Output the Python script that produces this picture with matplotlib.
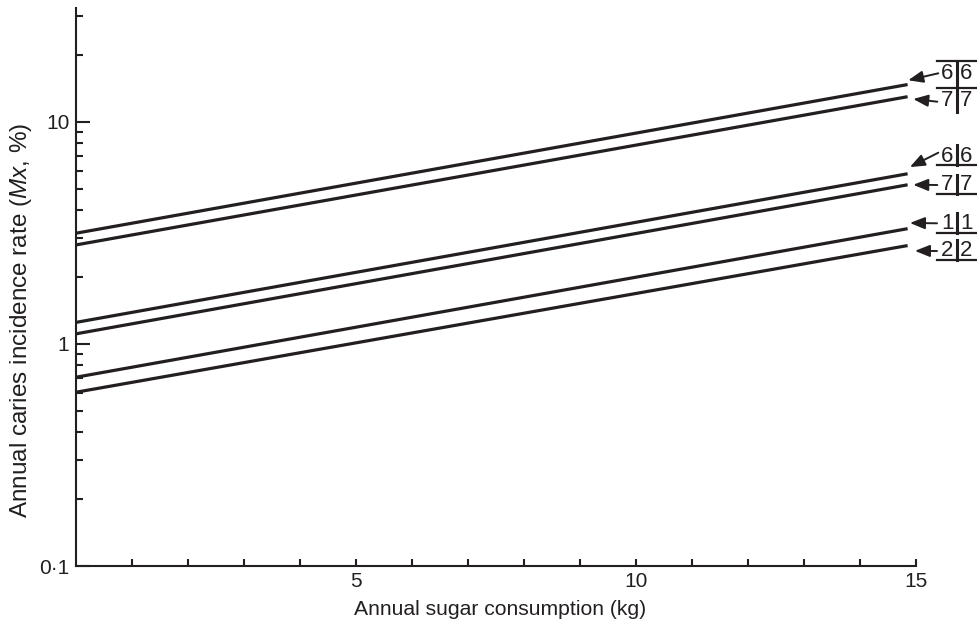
import matplotlib
matplotlib.use("Agg")
from matplotlib import pyplot as plt
from matplotlib.lines import Line2D
from matplotlib.ticker import FixedLocator, FixedFormatter, NullFormatter
import matplotlib.transforms as mtransforms

plt.rcParams['font.family'] = ['Liberation Sans', 'DejaVu Sans']
plt.rcParams['mathtext.fontset'] = 'custom'
plt.rcParams['mathtext.rm'] = 'Liberation Sans'
plt.rcParams['mathtext.it'] = 'Liberation Sans:italic'

# data
sugar_kg = [0, 14.85]
rate_6_upper = [3.15, 14.7]
rate_7_upper = [2.79, 12.96]
rate_6_lower = [1.25, 5.83]
rate_7_lower = [1.11, 5.20]
rate_1_lower = [0.708, 3.30]
rate_2_lower = [0.606, 2.77]
rates = [rate_6_upper, rate_7_upper, rate_6_lower, rate_7_lower, rate_1_lower, rate_2_lower]

tooth = ['6', '7', '6', '7', '1', '2']
jaw = ['upper', 'upper', 'lower', 'lower', 'lower', 'lower']

yticks_major = [0.1, 1, 10]
ytick_labels = ['0\u00b71', '1', '10']
xticks_major = [5, 10, 15]

# label layout (pixels from top-left of the figure)
label_y = [73.3, 100, 156, 185, 223.3, 250.7]
tail_x = [938.3, 937.3, 938.3, 937.3, 937, 937]
tail_y = [73.3, 101.7, 152.7, 185, 223.3, 251]
tip_dx = [0.6, 5.6, 2.3, 5.6, 2.3, 7.3]
tip_dy = [4.3, -2.3, 6.7, 0, 5.7, -5.3]

ink = '#231f20'
W, H = 978, 627

fig = plt.figure(figsize=(W / 100, H / 100), dpi=100)
ax = fig.add_axes([76.3 / W, 1 - 566 / H, (916 - 76.3) / W, (566 - 8.3) / H])

for r in rates:
    ax.plot(sugar_kg, r, color=ink, lw=2.3, solid_capstyle='butt')

ax.set_yscale('log')
ax.set_xlim(0, 15)
ax.set_ylim(0.1, 32.4)

ax.yaxis.set_major_locator(FixedLocator(yticks_major))
ax.yaxis.set_major_formatter(FixedFormatter(ytick_labels))
minors = [m * d for d in (0.1, 1, 10) for m in range(2, 10) if m * d < 32.4]
ax.yaxis.set_minor_locator(FixedLocator(minors))
ax.yaxis.set_minor_formatter(NullFormatter())

ax.xaxis.set_major_locator(FixedLocator(xticks_major))
ax.xaxis.set_minor_locator(FixedLocator([i for i in range(1, 15) if i % 5]))

for s in ['top', 'right']:
    ax.spines[s].set_visible(False)
for s in ['left', 'bottom']:
    ax.spines[s].set_color(ink)
    ax.spines[s].set_linewidth(1.5)

ax.tick_params(which='both', direction='in', color=ink, width=1.5, labelcolor=ink, labelsize=15)
ax.tick_params(axis='y', which='major', length=10, pad=5)
ax.tick_params(axis='y', which='minor', length=5)
ax.tick_params(axis='x', which='both', length=5, pad=4)

ax.set_xlabel('Annual sugar consumption (kg)', fontsize=15.2, color=ink)
ax.set_ylabel('Annual caries incidence rate ($\\mathit{Mx}$, %)', fontsize=17.5, color=ink)
ax.xaxis.set_label_coords(0.505, -0.061)
ax.yaxis.set_label_coords(-0.05, 0.44)


def fx(x):
    return x / W


def fy(y):
    return 1 - y / H


for i, r in enumerate(rates):
    yt = label_y[i]
    fig.text(fx(947.5), fy(yt), tooth[i], ha='center', va='center', fontsize=16, color=ink)
    fig.text(fx(966.5), fy(yt), tooth[i], ha='center', va='center', fontsize=16, color=ink)
    if jaw[i] == 'upper':
        hy, vy0, vy1 = yt - 12, yt - 12, yt + 11.5
    else:
        hy, vy0, vy1 = yt + 9.5, yt - 10.5, yt + 9.5
    fig.add_artist(Line2D([fx(937), fx(978)], [fy(hy), fy(hy)], color=ink, lw=1.6,
                          transform=fig.transFigure))
    fig.add_artist(Line2D([fx(957.3), fx(957.3)], [fy(vy0), fy(vy1)], color=ink, lw=2.2,
                          transform=fig.transFigure))
    tip = mtransforms.offset_copy(ax.transData, fig=fig, x=tip_dx[i], y=tip_dy[i], units='dots')
    ax.annotate('', xy=(sugar_kg[-1], r[-1]), xycoords=tip,
                xytext=(tail_x[i], H - tail_y[i]), textcoords='figure pixels',
                annotation_clip=False,
                arrowprops=dict(arrowstyle='-|>,head_length=0.45,head_width=0.18',
                                mutation_scale=20, color=ink, lw=1.4,
                                shrinkA=0, shrinkB=0))

fig.savefig('out.png', dpi=100)
